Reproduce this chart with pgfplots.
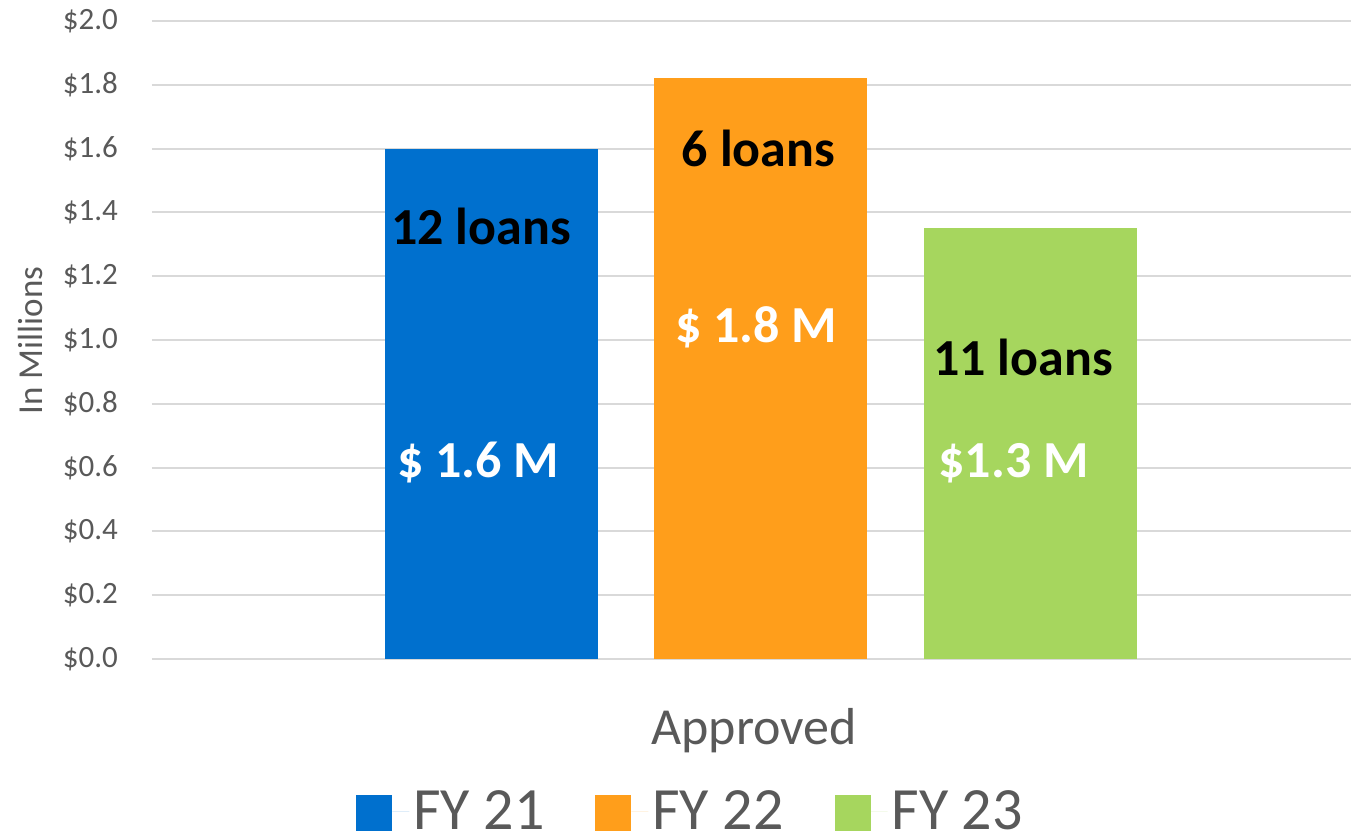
\documentclass[border=0pt]{standalone}
\usepackage{pgfplots}
\pgfplotsset{compat=1.18}
\usepackage{fontspec}
\setmainfont{Carlito}
\definecolor{cblue}{RGB}{0,112,206}
\definecolor{corange}{RGB}{255,158,27}
\definecolor{cgreen}{RGB}{166,214,94}
\definecolor{ctext}{RGB}{89,89,89}
\definecolor{cgrid}{RGB}{217,217,217}
\begin{document}
\begin{tikzpicture}
\begin{axis}[
  scale only axis, width=599.5pt, height=319pt,
  xmin=152, xmax=1351, ymin=0, ymax=2,
  ybar, bar width=213,
  axis line style={draw=none},
  major tick length=0pt,
  ymajorgrids, grid style={cgrid, line width=1pt},
  ytick={0,0.2,0.4,0.6,0.8,1.0,1.2,1.4,1.6,1.8,2.0},
  yticklabels={\$0.0,\$0.2,\$0.4,\$0.6,\$0.8,\$1.0,\$1.2,\$1.4,\$1.6,\$1.8,\$2.0},
  yticklabel style={font=\fontsize{15.5}{18}\selectfont, text=ctext, xshift=-13.5pt},
  xtick=\empty,
  clip=false,
  legend columns=3,
  legend style={draw=none, fill=none, at={(0.45,-0.2385)}, anchor=center,
    font=\fontsize{30}{36}\selectfont, text=ctext,
    /tikz/every even column/.append style={column sep=23.5pt}},
  legend image code/.code={\fill[#1] (0pt,-10pt) rectangle (18pt,8pt); \path (18pt,0pt) -- (26.5pt,0pt);},
]
\addplot[fill=cblue, draw=none, bar shift=0pt] coordinates {(491.5,1.6)};
\addplot[fill=corange, draw=none, bar shift=0pt] coordinates {(760.5,1.82)};
\addplot[fill=cgreen, draw=none, bar shift=0pt] coordinates {(1030.5,1.35)};
\legend{FY 21, FY 22, FY 23}
\node[anchor=base, font=\fontsize{26}{31}\selectfont\bfseries, text=black] at (axis cs:481,1.298) {12 loans};
\node[anchor=base, font=\fontsize{26}{31}\selectfont\bfseries, text=white] at (axis cs:478,0.5705) {\$ 1.6 M};
\node[anchor=base, font=\fontsize{26}{31}\selectfont\bfseries, text=black] at (axis cs:758.5,1.545) {6 loans};
\node[anchor=base, font=\fontsize{26}{31}\selectfont\bfseries, text=white] at (axis cs:756,0.9906) {\$ 1.8 M};
\node[anchor=base, font=\fontsize{26}{31}\selectfont\bfseries, text=black] at (axis cs:1023,0.890) {11 loans};
\node[anchor=base, font=\fontsize{26}{31}\selectfont\bfseries, text=white] at (axis cs:1013.5,0.5705) {\$1.3 M};
\node[rotate=90, font=\fontsize{17.5}{21}\selectfont, text=ctext] at (axis cs:30.5,0.998) {In Millions};
\node[anchor=base, font=\fontsize{26}{31}\selectfont, text=ctext] at (axis cs:754,-0.2696) {Approved};
\coordinate (bl) at (axis cs:0,-0.55486);
\coordinate (tr) at (axis cs:1351,2.06583);
\end{axis}
\pgfresetboundingbox
\useasboundingbox (bl) rectangle (tr);
\end{tikzpicture}
\end{document}
